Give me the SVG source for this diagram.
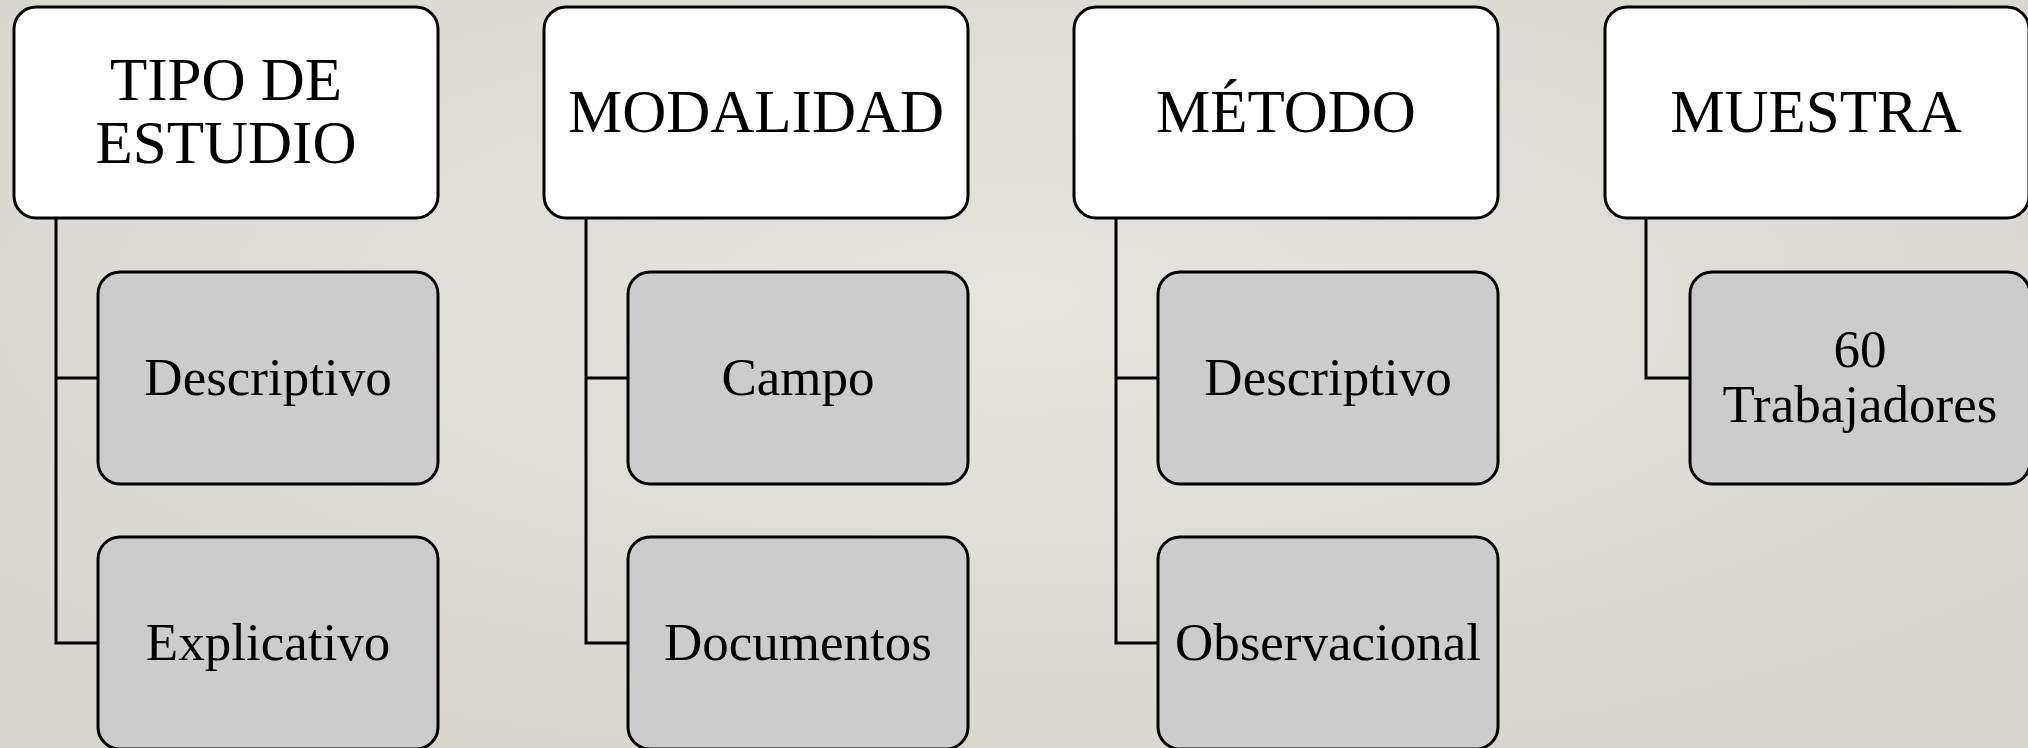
<svg xmlns="http://www.w3.org/2000/svg" width="2028" height="748" viewBox="0 0 2028 748">
<defs>
<radialGradient id="bg" cx="50%" cy="40%" r="75%">
<stop offset="0" stop-color="#e6e4df"/>
<stop offset="1" stop-color="#d7d4ce"/>
</radialGradient>
<style>
.top{fill:#ffffff;stroke:#000;stroke-width:3}
.sub{fill:#cccccc;stroke:#000;stroke-width:3}
.c{fill:none;stroke:#000;stroke-width:3}
.tt{font-family:"Liberation Serif","Times New Roman",serif;font-size:61px;fill:#000;text-anchor:middle}
.st{font-family:"Liberation Serif","Times New Roman",serif;font-size:53px;fill:#000;text-anchor:middle}
</style>
</defs>
<rect width="2028" height="748" fill="url(#bg)"/>
<g id="connectors">
<path class="c" d="M56 218V643H98M56 378H98"/>
<path class="c" d="M586 218V643H628M586 378H628"/>
<path class="c" d="M1116 218V643H1158M1116 378H1158"/>
<path class="c" d="M1646 218V378H1690"/>
</g>
<g id="n-tipo"><rect class="top" x="14" y="7" width="424" height="211" rx="22"/><text class="tt" x="226" y="100">TIPO DE</text><text class="tt" x="226" y="163">ESTUDIO</text></g>
<g id="n-desc1"><rect class="sub" x="98" y="272" width="340" height="212" rx="22"/><text class="st" x="268" y="395">Descriptivo</text></g>
<g id="n-expl"><rect class="sub" x="98" y="537" width="340" height="212" rx="22"/><text class="st" x="268" y="660">Explicativo</text></g>
<g id="n-modalidad"><rect class="top" x="544" y="7" width="424" height="211" rx="22"/><text class="tt" x="756" y="132">MODALIDAD</text></g>
<g id="n-campo"><rect class="sub" x="628" y="272" width="340" height="212" rx="22"/><text class="st" x="798" y="395">Campo</text></g>
<g id="n-docs"><rect class="sub" x="628" y="537" width="340" height="212" rx="22"/><text class="st" x="798" y="660">Documentos</text></g>
<g id="n-metodo"><rect class="top" x="1074" y="7" width="424" height="211" rx="22"/><text class="tt" x="1286" y="132">MÉTODO</text></g>
<g id="n-desc2"><rect class="sub" x="1158" y="272" width="340" height="212" rx="22"/><text class="st" x="1328" y="395">Descriptivo</text></g>
<g id="n-obs"><rect class="sub" x="1158" y="537" width="340" height="212" rx="22"/><text class="st" x="1328" y="660">Observacional</text></g>
<g id="n-muestra"><rect class="top" x="1605" y="7" width="424" height="211" rx="22"/><text class="tt" x="1816" y="132">MUESTRA</text></g>
<g id="n-trab"><rect class="sub" x="1690" y="272" width="340" height="212" rx="22"/><text class="st" x="1860" y="367">60</text><text class="st" x="1860" y="422">Trabajadores</text></g>
</svg>
